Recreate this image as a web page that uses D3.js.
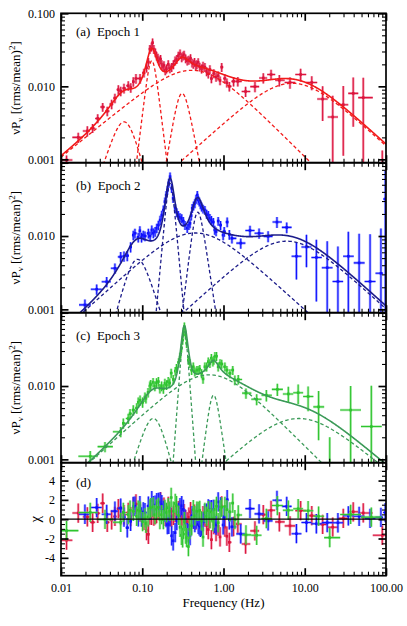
<!DOCTYPE html>
<html><head><meta charset="utf-8">
<script src="https://cdn.jsdelivr.net/npm/d3@7/dist/d3.min.js"></script>
<style>
html,body{margin:0;padding:0;background:#fff}
</style></head><body>
<svg id="chart" width="407" height="626"></svg>
<script>
// ---------- tick values / labels ----------
const freqMajor = [0.01, 0.1, 1, 10, 100];
const freqLabels = ["0.01", "0.10", "1.00", "10.00", "100.00"];
const powerMajor = [0.001, 0.01, 0.1];
const powerLabels = ["0.001", "0.010", "0.100"];
const chiMajor = [-4, -2, 0, 2, 4];
const chiLabels = ["-4", "-2", "0", "2", "4"];
const panelTitles = ["(a)  Epoch 1", "(b)  Epoch 2", "(c)  Epoch 3", "(d)"];

// ---------- data: [frequency (Hz), nu*P_nu, fractional error] ----------
const epoch1 = [
[0.0117,0.00098,0.15],[0.0163,0.0020,0.16],[0.0211,0.00245,0.16],[0.0245,0.00267,0.14],
[0.0283,0.00363,0.14],[0.0326,0.0052,0.14],[0.0371,0.00457,0.15],[0.042,0.0057,0.15],
[0.0461,0.0069,0.15],[0.0508,0.0090,0.15],[0.0543,0.0086,0.15],[0.0596,0.0094,0.15],
[0.0673,0.0102,0.15],[0.0722,0.0096,0.15],[0.0776,0.0116,0.15],[0.0837,0.0128,0.15],
[0.0939,0.0128,0.15],[0.105,0.0153,0.14],[0.113,0.0180,0.14],[0.119,0.0215,0.14],
[0.124,0.0323,0.14],[0.130,0.0350,0.14],[0.134,0.0396,0.14],[0.139,0.0323,0.14],
[0.145,0.0290,0.14],[0.150,0.0262,0.14],[0.156,0.0245,0.14],[0.162,0.0224,0.14],
[0.168,0.0236,0.14],[0.174,0.0200,0.14],[0.180,0.0185,0.14],[0.185,0.0193,0.14],
[0.192,0.0165,0.14],[0.199,0.0174,0.14],[0.209,0.0200,0.14],[0.219,0.0175,0.14],
[0.230,0.0183,0.14],[0.242,0.0200,0.14],[0.254,0.0224,0.14],[0.266,0.0235,0.14],
[0.278,0.0262,0.14],[0.292,0.0280,0.14],[0.306,0.0249,0.14],[0.318,0.0262,0.14],
[0.327,0.0270,0.14],[0.342,0.0240,0.14],[0.358,0.0224,0.14],[0.375,0.0230,0.14],
[0.393,0.0241,0.14],[0.410,0.0210,0.14],[0.425,0.0203,0.14],[0.440,0.0215,0.14],
[0.456,0.0193,0.14],[0.470,0.0200,0.14],[0.488,0.0213,0.14],[0.510,0.0185,0.14],
[0.537,0.0174,0.14],[0.560,0.0190,0.14],[0.590,0.0183,0.14],[0.620,0.0160,0.14],
[0.650,0.0149,0.14],[0.680,0.0170,0.14],[0.710,0.0128,0.14],[0.760,0.0150,0.14],
[0.810,0.0134,0.14],[0.860,0.0140,0.14],[0.907,0.0120,0.14],[0.950,0.0183,0.14],
[1.04,0.0128,0.14],[1.10,0.0112,0.14],[1.18,0.0100,0.15],[1.33,0.0117,0.15],
[1.50,0.0117,0.15],[1.87,0.0085,0.16],[2.44,0.0099,0.16],[3.09,0.0130,0.16],
[3.85,0.0145,0.16],[4.87,0.0121,0.18],[6.58,0.0113,0.18],[8.9,0.0145,0.2],
[12.2,0.0113,0.22],[16.6,0.0067,0.5],[22.1,0.0038,0.95],[29.8,0.0056,0.8],
[39.5,0.0080,0.65],[52.5,0.0070,0.87],[90,0.0006,1.2]
];
const epoch2 = [
[0.0197,0.00115,0.18],[0.0275,0.00188,0.16],[0.0365,0.00238,0.16],[0.0461,0.00363,0.16],
[0.0543,0.0052,0.16],[0.0596,0.0053,0.16],[0.0654,0.0054,0.16],[0.0719,0.0071,0.16],
[0.0776,0.0103,0.15],[0.0813,0.0109,0.15],[0.0893,0.0096,0.15],[0.0935,0.0118,0.15],
[0.098,0.0096,0.15],[0.103,0.0103,0.15],[0.108,0.0100,0.15],[0.119,0.0109,0.15],
[0.125,0.0100,0.15],[0.131,0.0121,0.15],[0.137,0.0110,0.15],[0.144,0.0115,0.15],
[0.151,0.0128,0.15],[0.158,0.0141,0.15],[0.166,0.0165,0.15],[0.174,0.0193,0.15],
[0.182,0.0226,0.15],[0.190,0.0294,0.14],[0.197,0.0360,0.14],[0.204,0.0424,0.14],
[0.212,0.0530,0.14],[0.220,0.0645,0.14],[0.230,0.0448,0.14],[0.240,0.0327,0.14],
[0.254,0.0239,0.14],[0.266,0.0210,0.14],[0.278,0.0193,0.14],[0.292,0.0180,0.14],
[0.306,0.0174,0.14],[0.320,0.0160,0.14],[0.336,0.0141,0.14],[0.358,0.0128,0.14],
[0.375,0.0140,0.14],[0.387,0.0149,0.14],[0.400,0.0190,0.14],[0.412,0.0239,0.14],
[0.428,0.0260,0.14],[0.444,0.0279,0.14],[0.460,0.0320,0.14],[0.476,0.0362,0.14],
[0.490,0.0310,0.14],[0.504,0.0294,0.14],[0.520,0.0270,0.14],[0.537,0.0251,0.14],
[0.560,0.0235,0.14],[0.590,0.0226,0.14],[0.620,0.0200,0.14],[0.650,0.0193,0.14],
[0.680,0.0175,0.14],[0.710,0.0165,0.14],[0.750,0.0155,0.14],[0.780,0.0121,0.14],
[0.810,0.0115,0.14],[0.860,0.0160,0.14],[0.920,0.0141,0.14],[0.990,0.0103,0.15],
[1.02,0.0115,0.15],[1.11,0.0155,0.15],[1.18,0.0105,0.15],[1.27,0.0093,0.15],
[1.63,0.0080,0.16],[2.12,0.0119,0.16],[2.74,0.0109,0.16],[3.54,0.0099,0.17],
[4.55,0.0155,0.17],[6.0,0.0131,0.17],[7.9,0.0053,0.52],[10.5,0.0071,0.47],
[13.9,0.0051,0.75],[18.9,0.0037,1.3],[25.6,0.0024,2.0],[34.4,0.0053,1.15],
[46.7,0.0043,1.5],[63.7,0.0024,3.4],[86.6,0.0031,3.1],[98,0.032,1.4]
];
const epoch3 = [
[0.0117,0.00025,0.8],[0.0229,0.0011,0.18],[0.0348,0.00149,0.16],[0.0543,0.00238,0.16],
[0.0585,0.0031,0.16],[0.0673,0.0036,0.16],[0.0708,0.0042,0.16],[0.0776,0.0047,0.16],
[0.0855,0.0050,0.16],[0.0893,0.0060,0.16],[0.094,0.0064,0.16],[0.101,0.0060,0.16],
[0.108,0.0071,0.15],[0.111,0.0068,0.15],[0.118,0.0082,0.15],[0.124,0.0100,0.15],
[0.127,0.0105,0.15],[0.136,0.0112,0.15],[0.143,0.0100,0.15],[0.150,0.0111,0.15],
[0.158,0.0115,0.15],[0.165,0.0093,0.15],[0.173,0.0100,0.15],[0.182,0.0092,0.15],
[0.190,0.0109,0.15],[0.199,0.0104,0.15],[0.209,0.0115,0.15],[0.218,0.0110,0.15],
[0.227,0.0150,0.15],[0.241,0.0123,0.15],[0.255,0.0160,0.14],[0.264,0.0175,0.14],
[0.280,0.0210,0.14],[0.292,0.0250,0.14],[0.304,0.0330,0.14],[0.314,0.0424,0.14],
[0.322,0.0550,0.14],[0.330,0.0644,0.14],[0.341,0.0500,0.14],[0.352,0.0383,0.14],
[0.370,0.0226,0.14],[0.385,0.0204,0.14],[0.405,0.0165,0.14],[0.425,0.0183,0.14],
[0.444,0.0157,0.14],[0.470,0.0165,0.14],[0.488,0.0165,0.14],[0.510,0.0170,0.14],
[0.537,0.0149,0.14],[0.560,0.0125,0.14],[0.590,0.0183,0.14],[0.620,0.0183,0.14],
[0.650,0.0215,0.14],[0.680,0.0204,0.14],[0.710,0.0240,0.14],[0.740,0.0215,0.14],
[0.760,0.0226,0.14],[0.785,0.0255,0.14],[0.820,0.0255,0.14],[0.860,0.0183,0.14],
[0.907,0.0204,0.14],[0.950,0.0200,0.14],[1.04,0.0183,0.14],[1.10,0.0165,0.14],
[1.20,0.0149,0.14],[1.30,0.0165,0.14],[1.38,0.0121,0.15],[1.52,0.0123,0.15],
[1.89,0.0080,0.16],[2.56,0.0066,0.17],[3.37,0.0075,0.18],[4.6,0.0090,0.19],
[6.28,0.0078,0.25],[8.3,0.0081,0.3],[11.0,0.0072,0.37],[14.8,0.0052,0.65],
[20.3,0.0005,3.0],[36.7,0.0047,1.13],[66,0.0028,2.6]
];

// ---------- fitted model components: [peak frequency, peak nuP_nu, low-side slope, high-side slope] ----------
const model1 = [[0.45,0.0165,0.9,1.1],[0.0613,0.00325,3.3,4.0],[0.131,0.0224,9,9],[0.306,0.008,6.5,5.7],[7.0,0.011,1.0,1.0]];
const model2 = [[0.45,0.011,1.0,1.0],[0.086,0.0048,4.0,3.5],[0.22,0.0523,12,12],[0.476,0.021,9,7.3],[6.0,0.0085,1.0,1.0]];
const model3 = [[0.7,0.0142,1.0,1.1],[0.14,0.0036,3.5,4.2],[0.33,0.055,15,15],[0.75,0.0075,8.6,7.7],[8.0,0.0036,1.0,0.9]];

// ---------- layout ----------
const FONT = "'Liberation Serif', 'DejaVu Serif', 'Times New Roman', serif";
const X0 = 61, X1 = 386;
const rows = [{top:13.3, bot:162.7}, {top:162.7, bot:312.7}, {top:312.7, bot:462.7}];
const chiRow = {top:462.7, bot:575.7};
const titleY = [36, 190, 339.5, 487];
const styles = [
  {data:"#dc143c", halo:"#e8557a", model:"#f21a1a"},
  {data:"#1010ff", halo:"#5060ff", model:"#1c1c8a"},
  {data:"#2ec42e", halo:"#72da72", model:"#3b9a58"}
];
const datasets = [epoch1, epoch2, epoch3];
const models = [model1, model2, model3];

const svg = d3.select("#chart").style("font-family", FONT);
const x = d3.scaleLog().domain([0.01, 100]).range([X0, X1]);

const freqMinor = [];
freqMajor.slice(0, -1).forEach(d => { for (let k = 2; k <= 9; k++) freqMinor.push(d * k); });
const powerMinor = [];
powerMajor.slice(0, -1).forEach(d => { for (let k = 2; k <= 9; k++) powerMinor.push(d * k); });
const chiMinor = d3.range(-5.5, 5.51, 0.5).filter(v => Math.abs(v % 2) > 1e-9);

function comp(nu, c) { const r = nu / c[0]; return 2 * c[1] / (Math.pow(r, -c[2]) + Math.pow(r, c[3])); }
function total(nu, m) { return d3.sum(m, c => comp(nu, c)); }
const grid = d3.range(0, 801).map(i => Math.pow(10, -2 + 4 * i / 800));

function binEdges(data) {
  return data.map((d, i) => {
    let lo, hi;
    if (i > 0) lo = Math.sqrt(data[i-1][0] * d[0]);
    if (i < data.length - 1) hi = Math.sqrt(data[i+1][0] * d[0]);
    if (lo === undefined) lo = d[0] * d[0] / hi;
    if (hi === undefined) hi = d[0] * d[0] / lo;
    return [lo, hi];
  });
}

function styleTicks(g, w) {
  g.select(".domain").remove();
  g.selectAll(".tick line").attr("stroke", "#000").attr("stroke-width", w);
}
function styleLabels(s) {
  s.select(".domain").remove();
  s.attr("font-size", 12).attr("font-family", null);
  s.selectAll("text").style("font-family", FONT).attr("fill", "#000");
}

function frameAxes(top, bot, y, yMajor, yMinor) {
  const g = svg.append("g");
  const specs = [
    [d3.axisBottom(x), `translate(0,${bot})`, freqMajor, freqMinor],
    [d3.axisTop(x), `translate(0,${top})`, freqMajor, freqMinor],
    [d3.axisLeft(y), `translate(${X0},0)`, yMajor, yMinor],
    [d3.axisRight(y), `translate(${X1},0)`, yMajor, yMinor]
  ];
  specs.forEach(([ax, tr, maj, min]) => {
    g.append("g").attr("transform", tr)
      .call(ax.tickValues(min).tickSize(-4).tickFormat(""))
      .call(s => styleTicks(s, 1.1));
    g.append("g").attr("transform", tr)
      .call(ax.tickValues(maj).tickSize(-7.5).tickFormat(""))
      .call(s => styleTicks(s, 1.7));
  });
  g.append("rect").attr("x", X0).attr("y", top).attr("width", X1 - X0).attr("height", bot - top)
    .attr("fill", "none").attr("stroke", "#000").attr("stroke-width", 1.7);
}

function drawPoints(g, data, edges, yFn, err, st) {
  const grp = g.append("g");
  data.forEach((d, i) => {
    const cx = x(d[0]), cy = yFn(d, i);
    const e = err(d, i);
    const xl = x(edges[i][0]), xr = x(edges[i][1]);
    [[2.6, st.halo, 0.55], [1.1, st.data, 1]].forEach(([w, c, o]) => {
      grp.append("line").attr("x1", xl).attr("x2", xr).attr("y1", cy).attr("y2", cy)
        .attr("stroke", c).attr("stroke-width", w).attr("stroke-opacity", o);
      grp.append("line").attr("x1", cx).attr("x2", cx).attr("y1", e[0]).attr("y2", e[1])
        .attr("stroke", c).attr("stroke-width", w).attr("stroke-opacity", o);
    });
    grp.append("rect").attr("x", cx - 1.3).attr("y", cy - 1.3).attr("width", 2.6).attr("height", 2.6)
      .attr("fill", st.data);
  });
}

function addText(xp, yp, size, txt, anchor) {
  return svg.append("text").attr("x", xp).attr("y", yp).attr("font-size", size)
    .style("font-family", FONT).attr("text-anchor", anchor || "start").text(txt);
}

const defs = svg.append("defs");

// ---------- power panels ----------
rows.forEach((row, p) => {
  const y = d3.scaleLog().domain([0.0009, 0.1]).range([row.bot, row.top]);
  const data = datasets[p], m = models[p], st = styles[p];
  defs.append("clipPath").attr("id", "clip" + p).append("rect")
    .attr("x", X0).attr("y", row.top).attr("width", X1 - X0).attr("height", row.bot - row.top);
  const g = svg.append("g").attr("clip-path", `url(#clip${p})`);
  const yc = v => y(Math.max(v, 1e-6));
  const line = d3.line().x(d => x(d[0])).y(d => yc(d[1]));
  drawPoints(g, data, binEdges(data), d => yc(d[1]),
    d => [yc(d[1] * (1 - d[2])), yc(d[1] * (1 + d[2]))], st);
  m.forEach(c => {
    g.append("path").attr("d", line(grid.map(f => [f, comp(f, c)])))
      .attr("fill", "none").attr("stroke", st.model).attr("stroke-width", 1.3)
      .attr("stroke-dasharray", "3.5,2.5");
  });
  g.append("path").attr("d", line(grid.map(f => [f, total(f, m)])))
    .attr("fill", "none").attr("stroke", st.model).attr("stroke-width", 1.6);

  frameAxes(row.top, row.bot, y, powerMajor, powerMinor);
  const labVals = p === 0 ? powerMajor : powerMajor.slice(0, 2);
  svg.append("g").attr("transform", `translate(${X0},0)`)
    .call(d3.axisLeft(y).tickValues(labVals).tickSize(0).tickPadding(6)
      .tickFormat(v => powerLabels[powerMajor.indexOf(v)]))
    .call(styleLabels);

  addText(76, titleY[p], 13, panelTitles[p]).attr("xml:space", "preserve");
  const lab = svg.append("text").attr("font-size", 13).attr("text-anchor", "middle").style("font-family", FONT)
    .attr("transform", `translate(19.5,${(row.top + row.bot) / 2}) rotate(-90)`);
  lab.append("tspan").text("\u03bdP");
  lab.append("tspan").attr("font-size", 9).attr("dy", 3).text("\u03bd");
  lab.append("tspan").attr("dy", -3).text(" [(rms/mean)");
  lab.append("tspan").attr("font-size", 9).attr("dy", -5).text("2");
  lab.append("tspan").attr("dy", 5).text("]");
});

// ---------- residual panel ----------
const ychi = d3.scaleLinear().domain([-5.85, 5.85]).range([chiRow.bot, chiRow.top]);
defs.append("clipPath").attr("id", "clipchi").append("rect")
  .attr("x", X0).attr("y", chiRow.top).attr("width", X1 - X0).attr("height", chiRow.bot - chiRow.top);
const gc = svg.append("g").attr("clip-path", "url(#clipchi)");
datasets.forEach((data, p) => {
  const m = models[p];
  const chi = data.map(d => (d[1] - total(d[0], m)) / (d[2] * d[1]));
  drawPoints(gc, data, binEdges(data), (d, i) => ychi(chi[i]),
    (d, i) => [ychi(chi[i] - 1), ychi(chi[i] + 1)], styles[p]);
});
gc.append("line").attr("x1", X0).attr("x2", X1).attr("y1", ychi(0)).attr("y2", ychi(0))
  .attr("stroke", "#000").attr("stroke-width", 1.3);
frameAxes(chiRow.top, chiRow.bot, ychi, chiMajor, chiMinor);
svg.append("g").attr("transform", `translate(${X0},0)`)
  .call(d3.axisLeft(ychi).tickValues(chiMajor).tickSize(0).tickPadding(6)
    .tickFormat(v => chiLabels[chiMajor.indexOf(v)]))
  .call(styleLabels);
svg.append("g").attr("transform", `translate(0,${chiRow.bot})`)
  .call(d3.axisBottom(x).tickValues(freqMajor).tickSize(0).tickPadding(8)
    .tickFormat(v => freqLabels[freqMajor.indexOf(v)]))
  .call(styleLabels);
addText(76, titleY[3], 13, panelTitles[3]);
svg.append("text").attr("font-size", 15).attr("text-anchor", "middle").style("font-family", FONT)
  .attr("transform", `translate(40,${ychi(0)}) rotate(-90)`).text("\u03c7");
addText(223.5, 607, 13, "Frequency (Hz)", "middle");
</script>
</body></html>
